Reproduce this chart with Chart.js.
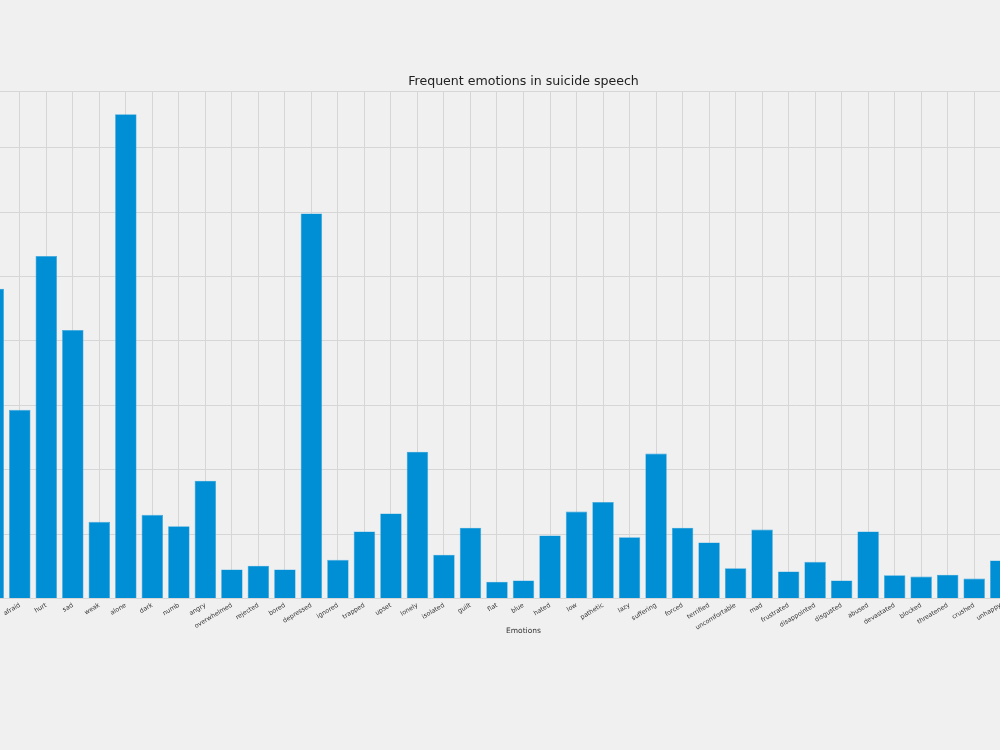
<!DOCTYPE html>
<html>
<head>
<meta charset="utf-8">
<script src="https://cdn.jsdelivr.net/npm/chart.js@4"></script>
<style>
    html, body { margin: 0; padding: 0; background: #f0f0f0; overflow: hidden; width: 1000px; height: 750px; }
    #chart { position: absolute; left: -20px; top: 0; }
</style>
</head>
<body>
<canvas id="chart" width="1087" height="750"></canvas>
<script>
// the first entry and the last two lie cut off past the picture edges
const emotions = ['', 'afraid', 'hurt', 'sad', 'weak', 'alone', 'dark', 'numb', 'angry', 'overwhelmed',
    'rejected', 'bored', 'depressed', 'ignored', 'trapped', 'upset', 'lonely', 'isolated', 'guilt', 'flat',
    'blue', 'hated', 'low', 'pathetic', 'lazy', 'suffering', 'forced', 'terrified', 'uncomfortable', 'mad',
    'frustrated', 'disappointed', 'disgusted', 'abused', 'devastated', 'blocked', 'threatened', 'crushed', 'unhappy', '', ''];
const counts = [481, 293, 532, 417, 119, 752, 130, 112, 183, 45,
    51, 45, 598, 60, 104, 132, 228, 68, 110, 26,
    28, 98, 135, 150, 95, 225, 110, 87, 47, 107,
    42, 57, 28, 104, 36, 34, 37, 31, 59, null, null];
const yMax = 788;
const yStep = 100;

const fontFamily = 'DejaVu Sans';

new Chart(document.getElementById('chart'), {
    type: 'bar',
    data: {
        labels: emotions,
        datasets: [{
            data: counts,
            backgroundColor: '#008fd5',
            borderColor: '#3aa6de',
            borderWidth: 0.6,
            barPercentage: 0.81,
            categoryPercentage: 1.0
        }]
    },
    options: {
        responsive: false,
        animation: false,
        layout: { padding: { left: 0, right: 0, top: 0, bottom: 110 } },
        plugins: {
            legend: { display: false },
            tooltip: { enabled: false },
            title: {
                display: true,
                text: 'Frequent emotions in suicide speech',
                color: '#222',
                font: { family: fontFamily, size: 12.6, weight: 'normal' },
                padding: { top: 74.5, bottom: 1.4 }
            }
        },
        scales: {
            x: {
                grid: { color: '#d6d6d6', offset: false, drawTicks: false },
                border: { display: false },
                ticks: {
                    color: '#333',
                    font: { family: fontFamily, size: 6.3 },
                    minRotation: 31,
                    maxRotation: 31,
                    autoSkip: false,
                    padding: 3
                },
                title: {
                    display: true,
                    text: 'Emotions',
                    color: '#333',
                    font: { family: fontFamily, size: 7.5 },
                    padding: 4
                },
                afterFit: scale => {
                    scale.height = 41.5;
                    scale.paddingLeft = 0;
                    scale.paddingRight = 0;
                }
            },
            y: {
                min: 0,
                max: yMax,
                grid: { color: '#d6d6d6', drawTicks: false },
                border: { display: false },
                ticks: { display: false, stepSize: yStep },
                afterFit: scale => { scale.width = 0; }
            }
        }
    }
});
</script>
</body>
</html>
